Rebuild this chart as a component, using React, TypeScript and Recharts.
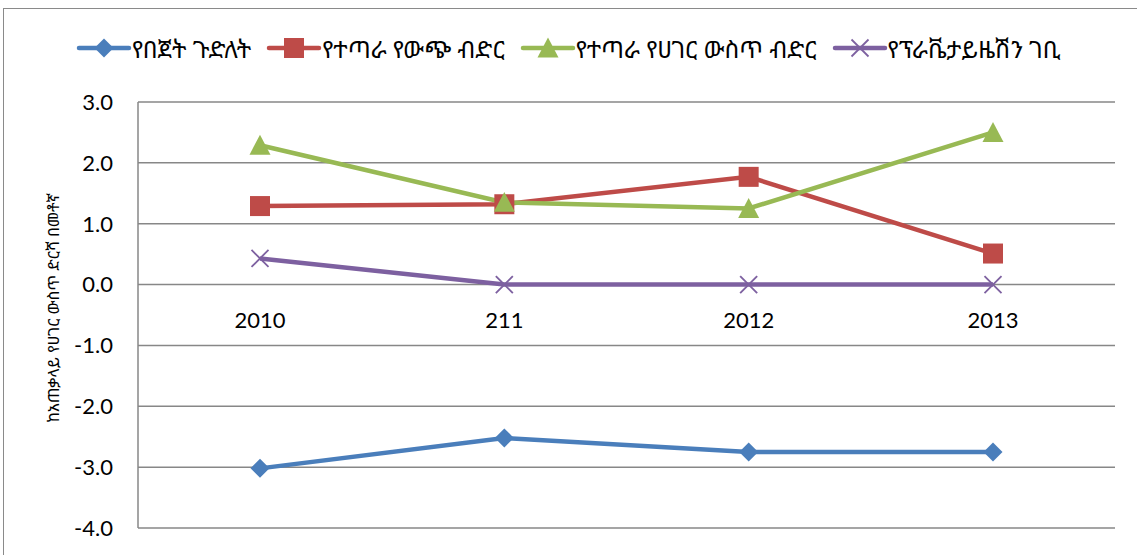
import React from "react";
import { LineChart, Line, XAxis, YAxis, CartesianGrid, Legend } from "recharts";

const categories = ["2010", "211", "2012", "2013"];
const budgetDeficit = [-3.02, -2.52, -2.75, -2.75];
const externalBorrowing = [1.29, 1.32, 1.77, 0.51];
const domesticBorrowing = [2.29, 1.35, 1.25, 2.5];
const privatizationRevenue = [0.43, 0, 0, 0];
const yTicks = [3, 2, 1, 0, -1, -2, -3, -4];
const seriesNames = [
  "የበጀት ጉድለት",
  "የተጣራ የውጭ ብድር",
  "የተጣራ የሀገር ውስጥ ብድር",
  "የፕራቬታይዜሽን ገቢ",
];
const yAxisTitle = "ከአጠቃላይ የሀገር ውስጥ ድርሻ በመቶኛ";

const data = categories.map((c, i) => ({
  year: c,
  s0: budgetDeficit[i],
  s1: externalBorrowing[i],
  s2: domesticBorrowing[i],
  s3: privatizationRevenue[i],
}));

const COLORS = ["#4a7ebb", "#be4b48", "#98b954", "#7d60a0"];
const ETH_FONT = "'Noto Sans Ethiopic', 'Abyssinica SIL', 'DejaVu Sans', sans-serif";
const NUM_FONT = "Lato, 'Open Sans', sans-serif";

const W = 1137;
const H = 555;
const X_AXIS_H = 1;
const MARGIN = { top: 62, right: 22, bottom: 26, left: 0 };
const LEGEND_H = 40;
const PLOT_TOP = MARGIN.top + LEGEND_H;
const PLOT_H = H - PLOT_TOP - MARGIN.bottom - X_AXIS_H;
const Y_MAX = 3;
const Y_MIN = -4;
const ZERO_Y = PLOT_TOP + ((Y_MAX - 0) / (Y_MAX - Y_MIN)) * PLOT_H;

function Marker({ kind, cx, cy, color }: { kind: number; cx: number; cy: number; color: string }) {
  if (cx == null || cy == null) return null;
  if (kind === 0) {
    const r = 9.5;
    return <polygon points={`${cx},${cy - r} ${cx + r},${cy} ${cx},${cy + r} ${cx - r},${cy}`} fill={color} />;
  }
  if (kind === 1) {
    const s = 10;
    return <rect x={cx - s} y={cy - s} width={2 * s} height={2 * s} fill={color} />;
  }
  if (kind === 2) {
    const s = 10.5;
    return <polygon points={`${cx},${cy - s} ${cx + s},${cy + s * 0.9} ${cx - s},${cy + s * 0.9}`} fill={color} />;
  }
  const s = 8.5;
  return (
    <g stroke={color} strokeWidth={1.8}>
      <line x1={cx - s} y1={cy - s} x2={cx + s} y2={cy + s} />
      <line x1={cx - s} y1={cy + s} x2={cx + s} y2={cy - s} />
    </g>
  );
}

const makeDot = (kind: number) => (props: any) => (
  <Marker key={`${kind}-${props.index}`} kind={kind} cx={props.cx} cy={props.cy} color={COLORS[kind]} />
);

function LegendContent() {
  return (
    <div style={{ display: "flex", alignItems: "center", height: LEGEND_H, paddingLeft: 76 }}>
      {seriesNames.map((n, i) => (
        <div key={n} style={{ display: "flex", alignItems: "center", marginRight: 15 }}>
          <svg width={56} height={24} style={{ display: "block" }}>
            <line x1={3} y1={12} x2={53} y2={12} stroke={COLORS[i]} strokeWidth={4.5} strokeLinecap="round" />
            <Marker kind={i} cx={28} cy={12} color={COLORS[i]} />
          </svg>
          <span style={{ fontFamily: ETH_FONT, fontSize: 24, color: "#000", whiteSpace: "nowrap" }}>{n}</span>
        </div>
      ))}
    </div>
  );
}

const XTick = (props: any) => {
  const { x, payload } = props;
  return (
    <text x={x} y={ZERO_Y + 43} textAnchor="middle" fontFamily={NUM_FONT} fontSize={22} fill="#000">
      {payload.value}
    </text>
  );
};

const YTitle = () => (
  <text
    x={53}
    y={308}
    transform="rotate(-90 53 308)"
    textAnchor="middle"
    dominantBaseline="central"
    fontFamily={ETH_FONT}
    fontSize={16}
    fill="#000"
  >
    {yAxisTitle}
  </text>
);

export default function App() {
  return (
    <div style={{ position: "fixed", left: 0, top: 0, width: W, height: H, background: "#fff", overflow: "hidden" }}>
      <div
        style={{
          position: "absolute",
          left: 3,
          top: 8,
          width: W + 10,
          height: H + 10,
          borderLeft: "1.5px solid #8a8a8a",
          borderTop: "1.5px solid #8a8a8a",
        }}
      />
      <div style={{ position: "absolute", left: 0, top: 0 }}>
        <LineChart width={W} height={H} data={data} margin={MARGIN}>
          <CartesianGrid horizontal vertical={false} stroke="#878787" strokeWidth={1.5} />
          <XAxis
            dataKey="year"
            axisLine={false}
            tickLine={false}
            padding={{ left: 122, right: 122 }}
            tick={XTick}
            height={X_AXIS_H}
            interval={0}
          />
          <YAxis
            domain={[Y_MIN, Y_MAX]}
            ticks={yTicks}
            interval={0}
            width={138}
            axisLine={{ stroke: "#878787", strokeWidth: 1.5 }}
            tickLine={false}
            tickSize={0}
            tickMargin={25}
            tickFormatter={(v: number) => v.toFixed(1)}
            tick={{ fontFamily: NUM_FONT, fontSize: 22, fill: "#000" }}
            label={<YTitle />}
          />
          <Legend verticalAlign="top" align="left" height={LEGEND_H} wrapperStyle={{ top: 28, left: 0 }} content={<LegendContent />} />
          {[0, 1, 2, 3].map((i) => (
            <Line
              key={i}
              dataKey={`s${i}`}
              name={seriesNames[i]}
              stroke={COLORS[i]}
              strokeWidth={4.5}
              dot={makeDot(i)}
              activeDot={false}
              isAnimationActive={false}
            />
          ))}
        </LineChart>
      </div>
    </div>
  );
}
